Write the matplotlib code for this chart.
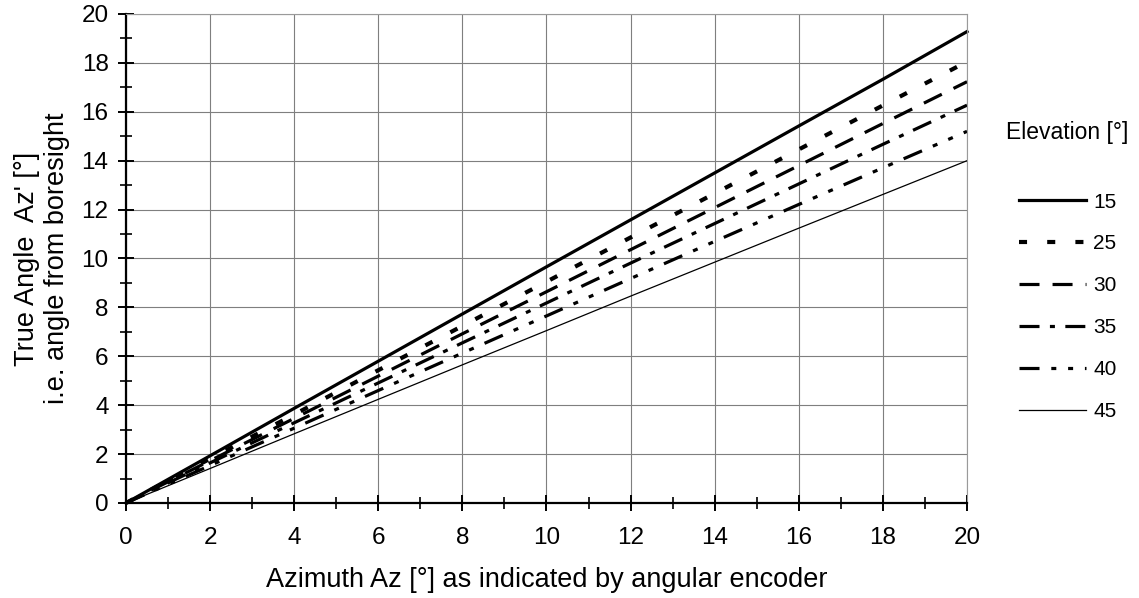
import matplotlib
matplotlib.use("Agg")
import matplotlib.pyplot as plt
from matplotlib.ticker import MultipleLocator

plt.rcParams['font.family'] = ['Liberation Sans', 'DejaVu Sans']
plt.rcParams['lines.scale_dashes'] = False

azimuth = [0, 2, 4, 6, 8, 10, 12, 14, 16, 18, 20]
elevations = ["15", "25", "30", "35", "40", "45"]
true_15 = [0, 1.93, 3.87, 5.80, 7.73, 9.66, 11.58, 13.50, 15.42, 17.33, 19.28]
true_25 = [0, 1.81, 3.62, 5.43, 7.24, 9.05, 10.86, 12.66, 14.46, 16.26, 18.05]
true_30 = [0, 1.73, 3.46, 5.19, 6.92, 8.64, 10.36, 12.08, 13.80, 15.52, 17.23]
true_35 = [0, 1.64, 3.28, 4.91, 6.55, 8.18, 9.81, 11.43, 13.05, 14.67, 16.27]
true_40 = [0, 1.53, 3.06, 4.60, 6.13, 7.65, 9.18, 10.70, 12.21, 13.71, 15.20]
true_45 = [0, 1.41, 2.83, 4.24, 5.65, 7.05, 8.46, 9.85, 11.24, 12.62, 14.00]
series = [true_15, true_25, true_30, true_35, true_40, true_45]

styles = [
    dict(lw=2.3, ls='-'),
    dict(lw=3.0, dashes=(5.8, 14.5)),
    dict(lw=2.3, dashes=(14.4, 9.4)),
    dict(lw=2.3, dashes=(14.4, 7.5, 3.6, 7.5)),
    dict(lw=2.3, dashes=(14.4, 8.5, 3.6, 8.5, 3.6, 8.5)),
    dict(lw=0.9, ls='-'),
]

fig = plt.figure(figsize=(11.39, 5.98), dpi=100)
ax = fig.add_axes([0.1106, 0.1589, 0.849 - 0.1106, 0.9766 - 0.1589])

for vals, el, st in zip(series, elevations, styles):
    ax.plot(azimuth, vals, color='black', label=el, clip_on=False, **st)

ax.set_xlim(0, 20)
ax.set_ylim(0, 20)
ax.xaxis.set_major_locator(MultipleLocator(2))
ax.xaxis.set_minor_locator(MultipleLocator(1))
ax.yaxis.set_major_locator(MultipleLocator(2))
ax.yaxis.set_minor_locator(MultipleLocator(1))
ax.grid(True, which='major', color='#7f7f7f', lw=0.8)
ax.set_axisbelow(True)
for s in ['top', 'right']:
    ax.spines[s].set_color('#9a9a9a')
    ax.spines[s].set_linewidth(0.8)
for s in ['left', 'bottom']:
    ax.spines[s].set_linewidth(1.6)
ax.tick_params(which='major', direction='inout', length=11, width=1.4, labelsize=17.5, pad=7)
ax.tick_params(which='minor', direction='inout', length=8, width=1.2)
ax.tick_params(axis='x', pad=12)

ax.set_xlabel("Azimuth Az [°] as indicated by angular encoder", fontsize=19.5, labelpad=13)
ax.set_ylabel("True Angle  Az' [°]\ni.e. angle from boresight", fontsize=19.5, labelpad=8)

fig.text(0.937, 0.778, "Elevation [°]", fontsize=16.5, ha='center', va='center')
leg = ax.legend(loc='upper left', bbox_to_anchor=(0.895, 0.678), bbox_transform=fig.transFigure,
                frameon=False, fontsize=15, handlelength=3.2, handletextpad=0.35,
                labelspacing=1.1, borderpad=0, borderaxespad=0)

fig.savefig("out.png", dpi=100)
